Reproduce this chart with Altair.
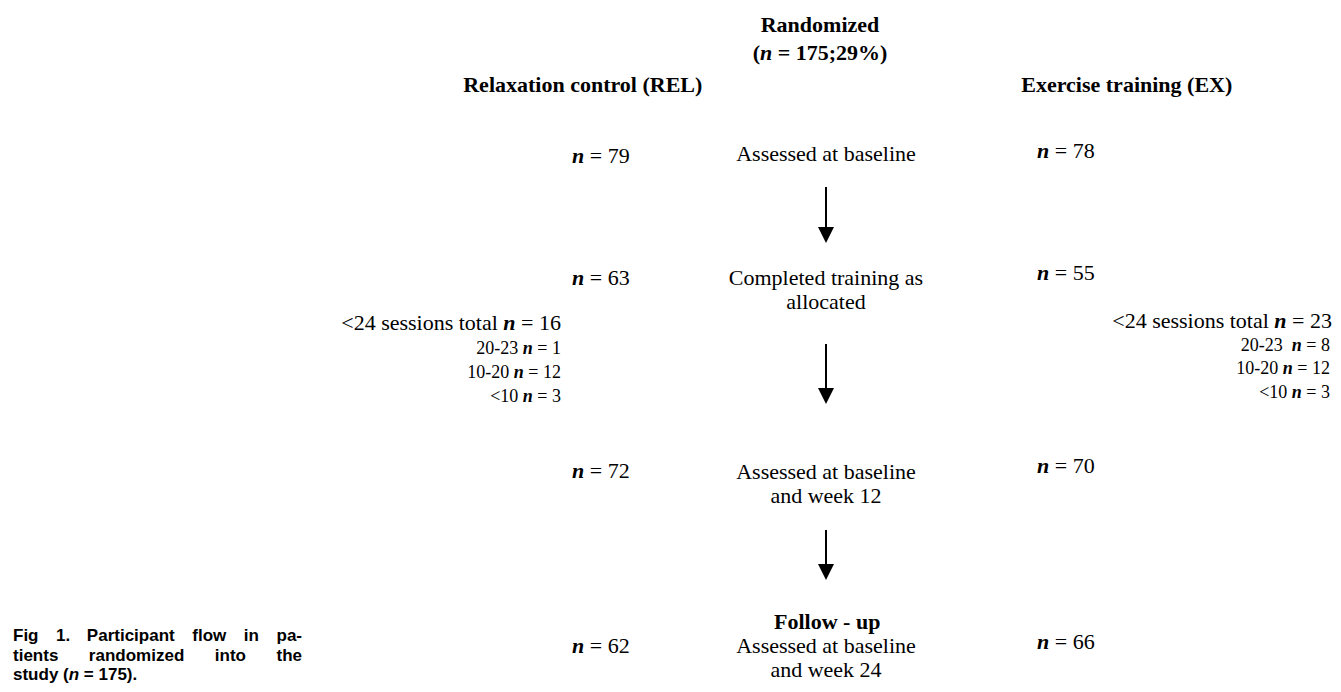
import altair as alt
import pandas as pd

# ---------------- data ----------------
title_lines = ["Randomized"]
randomized_n = 175
randomized_pct = "29%"
arm_names = ["Relaxation control (REL)", "Exercise training (EX)"]
stage_lines = [
    ["Assessed at baseline"],
    ["Completed training as", "allocated"],
    ["Assessed at baseline", "and week 12"],
    ["Assessed at baseline", "and week 24"],
]
stage_headers = ["", "", "", "Follow - up"]
rel_n = [79, 63, 72, 62]
ex_n = [78, 55, 70, 66]
sessions_label = "<24 sessions total"
rel_sessions_total = 16
ex_sessions_total = 23
session_bins_rel = ["20-23", "10-20", "<10"]
session_bins_ex = ["20-23\u00a0", "10-20", "<10"]
rel_bin_n = [1, 12, 3]
ex_bin_n = [8, 12, 3]
caption_lines = ["Fig 1. Participant flow in pa-", "tients randomized into the"]
caption_last = ("study (", "n", " = 175).")

# ---------------- layout ----------------
W, H, M = 1325, 676, 8
CX = 826
REL_HEAD_X, EX_HEAD_X = 583, 1127
REL_NX, EX_NX = 572, 1037
rel_row_y = [156, 278, 471, 646]
ex_row_y = [151, 273, 466, 642]
stage_y = [154, 278, 472, 646]
follow_y = 622
line_gap = 24
arrow_spans = [(187, 243), (344, 404), (530, 580)]
REL_SUB_X, EX_SUB_X = 561, 1332
rel_sub_y = [323, 349, 373, 397]
ex_sub_y = [321, 346, 369, 393]
MAIN, SMALL, CAP = 22, 18, 17
CAP_X, CAP_R = 13, 302
cap_y = [636, 656, 675]

# approximate glyph widths (per 1000 em)
TR = {" ": 250, "\u00a0": 250, "(": 333, ")": 333, "%": 833, "-": 333, ".": 250, ";": 278,
      "<": 564, "=": 564, "A": 722, "C": 667, "E": 611, "L": 611, "R": 667, "X": 722,
      "a": 444, "b": 500, "c": 444, "d": 500, "e": 444, "f": 333, "g": 500, "i": 278,
      "k": 500, "l": 278, "m": 778, "n": 500, "o": 500, "p": 500, "r": 333, "s": 389,
      "t": 278, "u": 500, "w": 722, "x": 500, "y": 500, "z": 444}
TB = dict(TR)
TB.update({"%": 1000, ";": 333, "=": 570, "n": 556, "E": 667, "R": 722, "L": 667,
           "a": 500, "c": 444, "d": 556, "e": 444, "i": 278, "l": 278, "m": 833,
           "o": 500, "r": 444, "t": 333, "x": 500, "z": 444, "g": 500, "s": 389,
           "u": 556, "p": 556, "w": 722, "-": 333})
TBI = {" ": 250, "n": 556}
HB = {" ": 278, "(": 333, ")": 333, "-": 333, ".": 278, "=": 584, "F": 611, "P": 667,
      "a": 556, "c": 556, "d": 611, "e": 556, "f": 333, "g": 611, "h": 611, "i": 278,
      "l": 278, "m": 889, "n": 611, "o": 611, "p": 611, "r": 389, "s": 556, "t": 333,
      "u": 611, "w": 778, "y": 556, "z": 500}
TABLES = {"sr": TR, "sb": TB, "sbi": TBI, "hb": HB, "hbi": HB}


def tw(text, style, size):
    tab = TABLES[style]
    return sum(tab.get(c, 500) for c in text) * size / 1000.0


runs = []


def place(segments, x, y, size, anchor="left"):
    total = sum(tw(t, s, size) for t, s in segments)
    if anchor == "center":
        cur = x - total / 2
    elif anchor == "right":
        cur = x - total
    else:
        cur = x
    for t, s in segments:
        lead = len(t) - len(t.lstrip(" "))
        txt = t.strip(" ")
        if txt:
            runs.append(dict(text=txt, x=cur + tw(t[:lead], s, size), y=y, size=size, style=s))
        cur += tw(t, s, size)


def justify(words, x0, x1, y, size, style):
    ws = [tw(w, style, size) for w in words]
    gap = (x1 - x0 - sum(ws)) / (len(words) - 1)
    cur = x0
    for w, wd in zip(words, ws):
        runs.append(dict(text=w, x=cur, y=y, size=size, style=style))
        cur += wd + gap


# header
place([(title_lines[0], "sb")], 820, 25, MAIN, "center")
place([("(", "sb"), ("n", "sbi"), (f" = {randomized_n};{randomized_pct})", "sb")], 820, 53, MAIN, "center")
place([(arm_names[0], "sb")], REL_HEAD_X, 85, MAIN, "center")
place([(arm_names[1], "sb")], EX_HEAD_X, 85, MAIN, "center")

# stages
for i, lines in enumerate(stage_lines):
    for j, ln in enumerate(lines):
        place([(ln, "sr")], CX, stage_y[i] + j * line_gap, MAIN, "center")
    if stage_headers[i]:
        place([(stage_headers[i], "sb")], CX, follow_y, MAIN, "center")
    place([("n", "sbi"), (f" = {rel_n[i]}", "sr")], REL_NX, rel_row_y[i], MAIN)
    place([("n", "sbi"), (f" = {ex_n[i]}", "sr")], EX_NX, ex_row_y[i], MAIN)

# sessions
place([(sessions_label + " ", "sr"), ("n", "sbi"), (f" = {rel_sessions_total}", "sr")],
      REL_SUB_X, rel_sub_y[0], MAIN, "right")
place([(sessions_label + " ", "sr"), ("n", "sbi"), (f" = {ex_sessions_total}", "sr")],
      EX_SUB_X, ex_sub_y[0], MAIN, "right")
for k in range(3):
    place([(session_bins_rel[k] + " ", "sr"), ("n", "sbi"), (f" = {rel_bin_n[k]}", "sr")],
          REL_SUB_X, rel_sub_y[k + 1], SMALL, "right")
    place([(session_bins_ex[k] + " ", "sr"), ("n", "sbi"), (f" = {ex_bin_n[k]}", "sr")],
          EX_SUB_X - 2, ex_sub_y[k + 1], SMALL, "right")

# caption
for i, ln in enumerate(caption_lines):
    justify(ln.split(" "), CAP_X, CAP_R, cap_y[i], CAP, "hb")
place([(caption_last[0], "hb"), (caption_last[1], "hbi"), (caption_last[2], "hb")],
      CAP_X, cap_y[2], CAP)

df = pd.DataFrame(runs)
arrows = pd.DataFrame(
    [dict(x=CX, y=a, y2=b - 15, tip=b - 8) for a, b in arrow_spans]
)

xs = alt.Scale(domain=[M, M + W], nice=False, zero=False)
ys = alt.Scale(domain=[M, M + H], nice=False, zero=False, reverse=True)

STYLE_MARKS = {
    "sr": dict(font="Liberation Serif", fontWeight="normal", fontStyle="normal"),
    "sb": dict(font="Liberation Serif", fontWeight="bold", fontStyle="normal"),
    "sbi": dict(font="Liberation Serif", fontWeight="bold", fontStyle="italic"),
    "hb": dict(font="Liberation Sans", fontWeight="bold", fontStyle="normal"),
    "hbi": dict(font="Liberation Sans", fontWeight="bold", fontStyle="italic"),
}

layers = []
for key, props in STYLE_MARKS.items():
    sub = df[df["style"] == key]
    if len(sub) == 0:
        continue
    layers.append(
        alt.Chart(sub).mark_text(align="left", baseline="middle", color="black", **props).encode(
            x=alt.X("x:Q", scale=xs, axis=None),
            y=alt.Y("y:Q", scale=ys, axis=None),
            text="text:N",
            size=alt.Size("size:Q", scale=None),
        )
    )

rules = alt.Chart(arrows).mark_rule(color="black", strokeWidth=2).encode(
    x=alt.X("x:Q", scale=xs, axis=None),
    y=alt.Y("y:Q", scale=ys, axis=None),
    y2="y2:Q",
)
heads = alt.Chart(arrows).mark_point(
    shape="M-1,-1L1,-1L0,1Z", filled=True, color="black", opacity=1, size=256, strokeWidth=0
).encode(
    x=alt.X("x:Q", scale=xs, axis=None),
    y=alt.Y("tip:Q", scale=ys, axis=None),
)

chart = alt.layer(rules, heads, *layers).properties(
    width=W, height=H, padding=0, autosize=alt.AutoSizeParams(type="none"), background="white"
).configure_view(stroke=None)

chart.save("out.html", embed_options={"renderer": "svg", "actions": False})
